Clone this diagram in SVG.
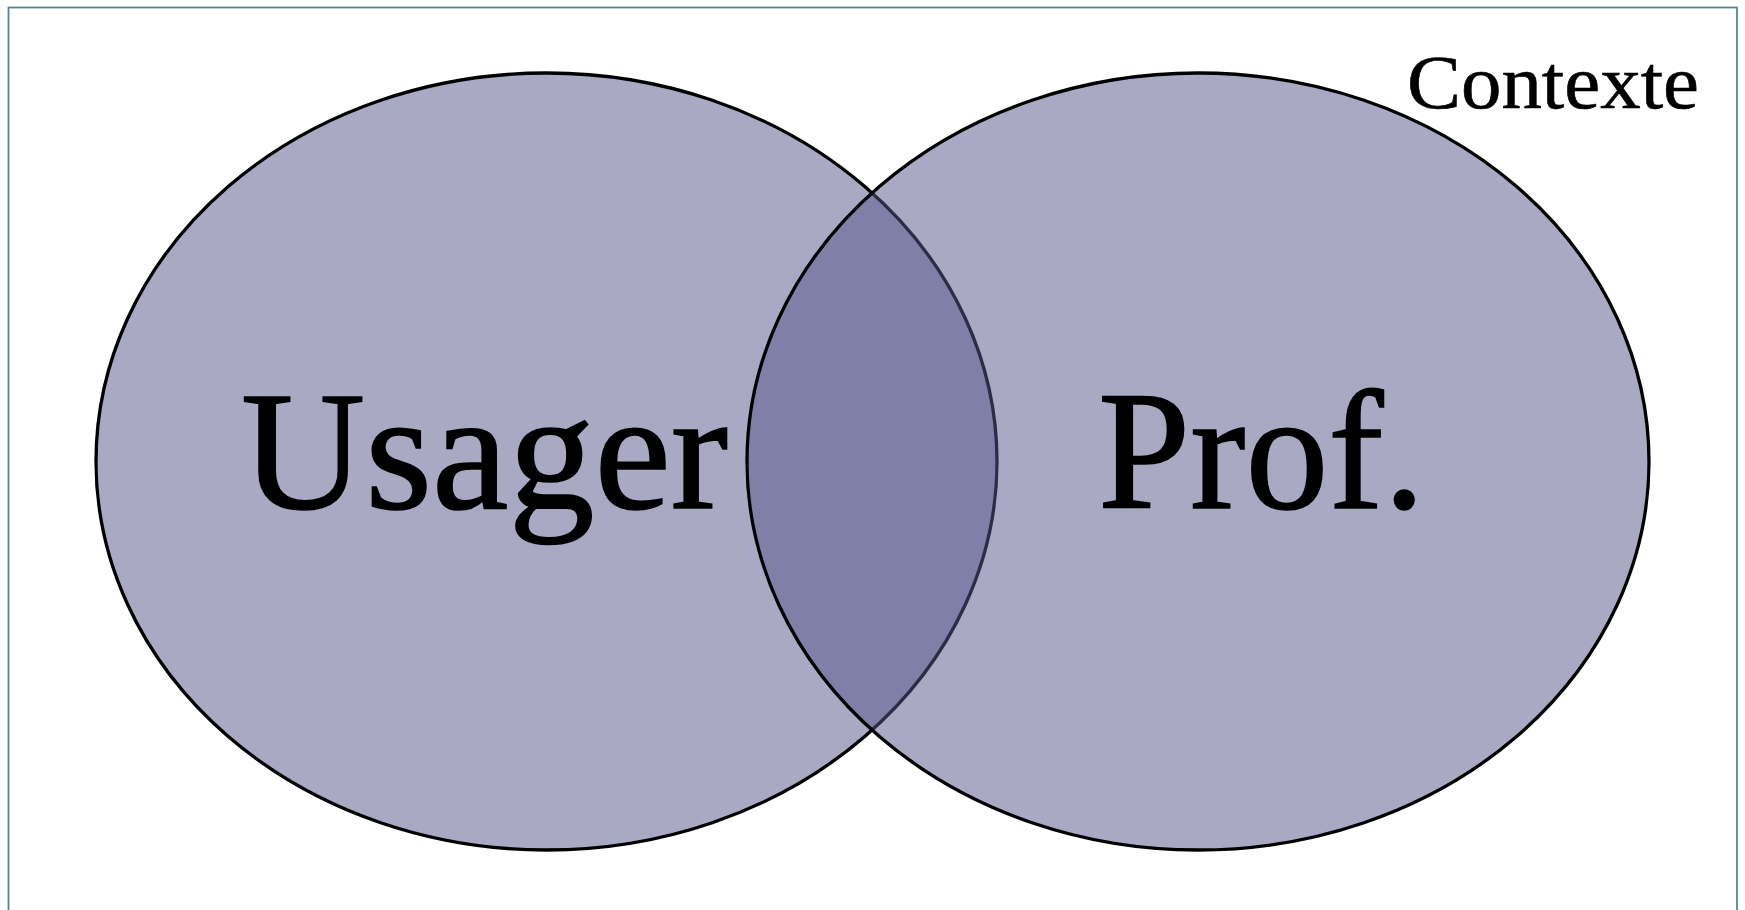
<svg xmlns="http://www.w3.org/2000/svg" width="1745" height="910" viewBox="0 0 1745 910">
  <style>
    .set { fill: #56568b; fill-opacity: 0.51; stroke: #000; stroke-width: 3.3; }
    .big { font-family: "Liberation Serif", "Times New Roman", serif; font-size: 170px; fill: #000; stroke: #000; stroke-width: 1.6; }
    .ctx { font-family: "Liberation Serif", "Times New Roman", serif; font-size: 77px; fill: #000; stroke: #000; stroke-width: 0.6; }
  </style>
  <rect x="0" y="0" width="1745" height="910" fill="#fff"/>
  <g id="frame">
    <rect x="8.5" y="7.5" width="1728.5" height="920" fill="none" stroke="#4f8a8e" stroke-width="1.8"/>
  </g>
  <g id="usager">
    <ellipse class="set" cx="546.5" cy="461.5" rx="450.5" ry="388.5"/>
    <text class="big" x="241" y="508" textLength="487" lengthAdjust="spacingAndGlyphs">Usager</text>
  </g>
  <g id="prof">
    <ellipse class="set" cx="1198" cy="461.5" rx="451" ry="388.5"/>
    <text class="big" x="1098" y="508" textLength="327" lengthAdjust="spacingAndGlyphs">Prof.</text>
  </g>
  <g id="contexte">
    <text class="ctx" x="1407" y="108" textLength="292" lengthAdjust="spacingAndGlyphs">Contexte</text>
  </g>
  <g id="connectors"></g>
</svg>
